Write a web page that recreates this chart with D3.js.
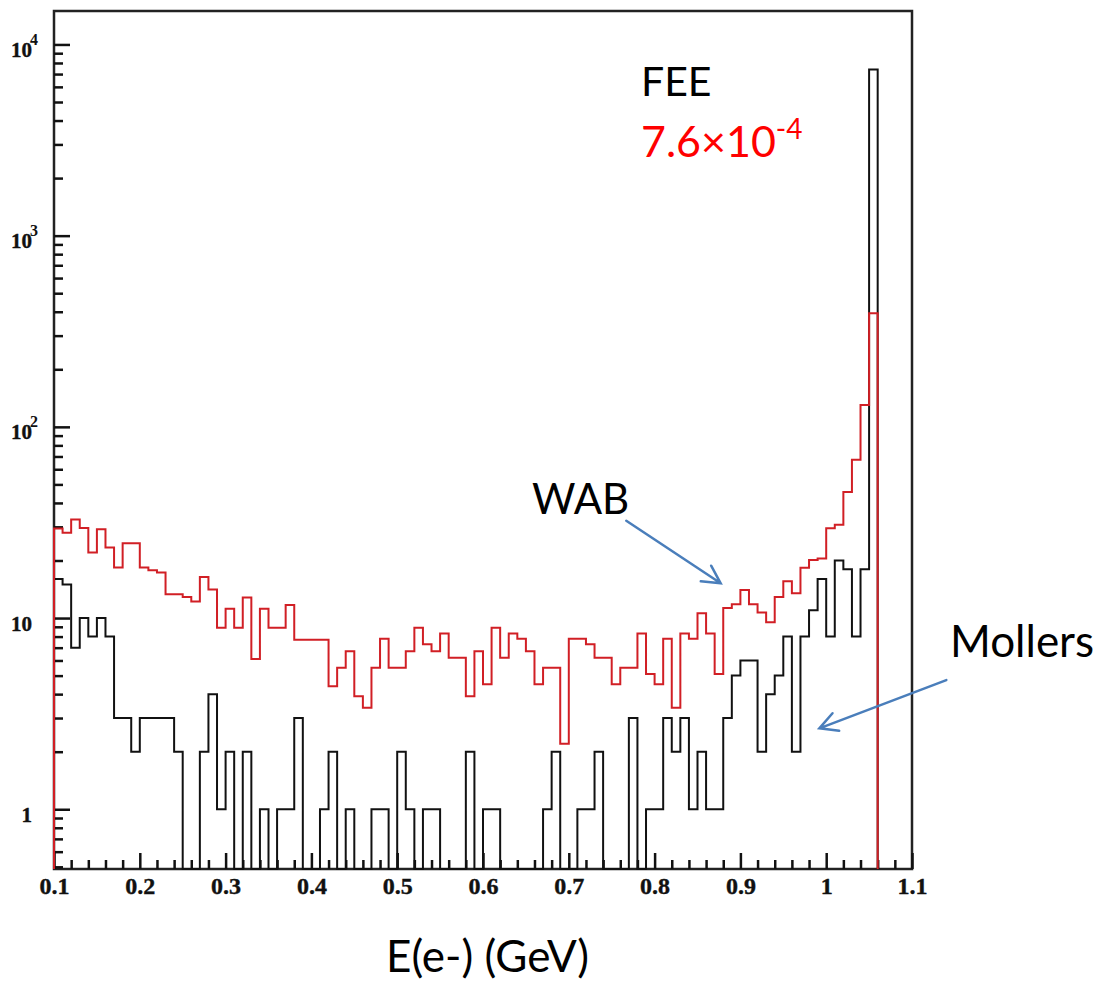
<!DOCTYPE html>
<html><head><meta charset="utf-8">
<script src="https://cdn.jsdelivr.net/npm/d3@7"></script>
<style>
body{margin:0;background:#fff}
svg{display:block}
.tk text{font-family:"Liberation Serif","DejaVu Serif",serif;font-weight:bold;fill:#111}
.note{font-family:Lato,"Open Sans",sans-serif}
</style></head><body>
<svg id="c" width="1097" height="983"></svg>
<script>
// histogram binning: 0.01 GeV bins starting at 0.10 GeV
const binLow=0.10,binWidth=0.01;
// WAB (red)
const wab=[29.4,27.9,32.8,29.6,22.0,29.1,23.4,18.4,24.6,24.6,
 18.4,17.8,17.3,13.3,13.3,12.9,12.2,16.4,14.1,8.9,
 11.2,8.9,12.8,6.1,11.2,8.9,8.9,11.7,7.7,7.7,
 7.7,7.7,4.4,5.5,6.7,3.9,3.4,5.5,7.8,5.5,
 5.5,6.7,8.9,7.3,6.7,8.3,6.2,6.2,3.9,6.7,
 4.5,8.9,6.2,8.3,7.8,6.7,4.5,5.5,5.5,2.2,
 7.8,7.8,7.3,6.2,6.2,4.5,5.5,5.5,8.3,5.1,
 4.5,7.8,3.4,8.3,7.8,10.6,8.3,5.1,11.3,11.8,
 14.0,11.8,10.7,9.5,12.9,15.6,13.5,18.3,20.1,20.5,
 29.5,30.8,45.7,67.3,130,393];
// Mollers + FEE (black)
const moller=[16,15,7,10,8,10,8,3,3,2,
 3,3,3,3,2,0,0,2,4,1,
 2,0,2,0,1,0,1,1,3,0,
 0,1,2,0,1,0,0,1,1,0,
 2,1,0,1,1,0,0,0,2,0,
 1,1,0,0,0,0,0,1,2,0,
 0,1,1,2,0,0,0,3,0,1,
 1,3,2,3,1,2,1,1,3,5,
 6,6,2,4,5,8,2,8,11,16,
 8,20,18,8,18,7400];
const xMajor=[0.1,0.2,0.3,0.4,0.5,0.6,0.7,0.8,0.9,1.0,1.1];
const yDecades=[1,10,100,1000,10000];

const svg=d3.select('#c');
const L=54,T=11,R=912,B=869;
const x=d3.scaleLinear().domain([0.1,1.1]).range([L,R]);
const y=d3.scaleLog().domain([0.487,14960]).range([B,T]);

// frame
svg.append('rect').attr('x',L).attr('y',T).attr('width',R-L).attr('height',B-T)
 .attr('fill','none').attr('stroke','#222').attr('stroke-width',2.5);

// x axis: minor + major
const xMinor=d3.range(0.12,1.1,0.02).filter(v=>Math.abs(v*10-Math.round(v*10))>1e-6);
svg.append('g').attr('transform',`translate(0,${B})`)
 .call(d3.axisBottom(x).tickValues(xMinor).tickSizeInner(-9).tickSizeOuter(0).tickFormat(''))
 .call(g=>g.select('.domain').remove())
 .call(g=>g.selectAll('line').attr('stroke','#111').attr('stroke-width',2.5));
svg.append('g').attr('class','tk').attr('transform',`translate(0,${B})`)
 .call(d3.axisBottom(x).tickValues(xMajor).tickSizeInner(-16).tickSizeOuter(0).tickPadding(8).tickFormat(d=>String(+d.toFixed(1))))
 .call(g=>g.select('.domain').remove())
 .call(g=>g.selectAll('line').attr('stroke','#111').attr('stroke-width',2.5))
 .call(g=>g.selectAll('text').attr('font-size',24).attr('stroke','#111').attr('stroke-width',0.4));

// y axis: minor + major with 10^n labels
const yMinor=[];
[0.1,1,10,100,1000].forEach(d=>{for(let m=2;m<10;m++){const v=d*m;if(v>y.domain()[0]&&v<y.domain()[1])yMinor.push(v);}});
svg.append('g').attr('transform',`translate(${L},0)`)
 .call(d3.axisLeft(y).tickValues(yMinor).tickSizeInner(-9).tickSizeOuter(0).tickFormat(''))
 .call(g=>g.select('.domain').remove())
 .call(g=>g.selectAll('line').attr('stroke','#111').attr('stroke-width',2.5));
const ya=svg.append('g').attr('class','tk').attr('transform',`translate(${L},0)`)
 .call(d3.axisLeft(y).tickValues(yDecades).tickSizeInner(-16).tickSizeOuter(0).tickFormat(''))
 .call(g=>g.select('.domain').remove())
 .call(g=>g.selectAll('line').attr('stroke','#111').attr('stroke-width',2.5));
ya.selectAll('.tick').each(function(d){
 const t=d3.select(this),e=Math.round(Math.log10(d));
 t.select('text').remove();
 t.append('text').attr('x',-22).attr('y',12).attr('text-anchor','end').attr('font-size',21)
  .attr('stroke','#111').attr('stroke-width',0.4).text(e===0?'1':'10');
 if(e>1)t.append('text').attr('x',-16).attr('y',0).attr('font-size',16).text(e);
});

// histograms
function histPath(vals){
 const base=y.range()[0];
 const pts=[[x(binLow),base]];
 vals.forEach((v,i)=>{const yy=v>0?y(v):base;pts.push([x(binLow+i*binWidth),yy],[x(binLow+(i+1)*binWidth),yy]);});
 pts.push([x(binLow+vals.length*binWidth),base]);
 return d3.line()(pts);
}
svg.append('path').attr('d',histPath(moller)).attr('fill','none').attr('stroke','#111').attr('stroke-width',2);
svg.append('path').attr('d',histPath(wab)).attr('fill','none').attr('stroke','#d11f25').attr('stroke-width',2);

// annotations
const note=(tx,px,py,col,fs)=>svg.append('text').attr('class','note').attr('x',px).attr('y',py)
 .attr('font-size',fs).attr('fill',col).text(tx);
note('FEE',641,96,'#000',41);
const r=note('7.6×10',641,157,'#f00',43);
r.append('tspan').attr('font-size',28).attr('dy',-18).text('-4');
note('WAB',532,514,'#000',42);
note('Mollers',950,657,'#000',44);
note('E(e-) (GeV)',386,972,'#000',44);

function arrow(e0,v0,e1,v1){
 const x0=x(e0),y0=y(v0),x1=x(e1),y1=y(v1);
 const a=Math.atan2(y0-y1,x0-x1),len=20,sp=28*Math.PI/180;
 const p=d3.path();
 p.moveTo(x0,y0);p.lineTo(x1,y1);
 p.moveTo(x1+len*Math.cos(a+sp),y1+len*Math.sin(a+sp));p.lineTo(x1,y1);
 p.lineTo(x1+len*Math.cos(a-sp),y1+len*Math.sin(a-sp));
 svg.append('path').attr('d',p.toString()).attr('fill','none').attr('stroke','#4a7ebb')
  .attr('stroke-width',2.5).attr('stroke-linecap','round');
}
arrow(0.767,32.3,0.877,15.2);
arrow(1.140,4.74,0.992,2.65);
</script>
</body></html>
